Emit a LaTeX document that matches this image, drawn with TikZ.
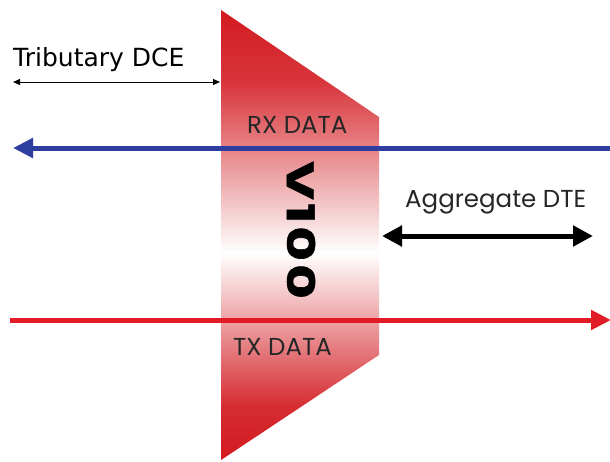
\documentclass[tikz,border=0pt]{standalone}
\usepackage{graphicx}
\usepackage{fontspec}
\setmainfont{DejaVu Sans}
\newfontfamily\geofont{Poppins}
\usetikzlibrary{arrows.meta, positioning, calc}
\definecolor{rxBlue}{RGB}{45, 62, 158}
\definecolor{txRed}{RGB}{226, 28, 38}
\definecolor{muxRed}{RGB}{210, 26, 32}
\pgfdeclareverticalshading{muxshade}{100bp}{color(0bp)=(muxRed); color(25bp)=(muxRed); color(31bp)=(muxRed!92!white); color(48bp)=(white); color(67bp)=(muxRed!88!white); color(75bp)=(muxRed); color(100bp)=(muxRed)}

\begin{document}
\begin{tikzpicture}[
    x=1pt, y=-1pt,
    label/.style={inner sep=0pt, font=\geofont\fontsize{24.5}{24.5}\selectfont, text=black!85},
    dataline/.style={line width=5pt, -{Triangle[length=20pt, width=19pt]}},
    span/.style={line width=1pt, {Triangle[length=7pt, width=6pt]}-{Triangle[length=7pt, width=6pt]}},
    bigspan/.style={line width=5pt, {Triangle[length=20pt, width=20pt]}-{Triangle[length=20pt, width=20pt]}}
]
    \useasboundingbox (0,0) rectangle (610,461);

    % Multiplexer body
    \coordinate (tl) at (221,10);
    \coordinate (tr) at (379,117);
    \coordinate (br) at (379,355);
    \coordinate (bl) at (221,460);
    \shade[shading=muxshade] (tl) -- (tr) -- (br) -- (bl) -- cycle;

    % Labels
    \node[label, anchor=base west] (rx) at (247,133) {RX DATA};
    \node[label, anchor=base west] (tx) at (233,355) {TX DATA};
    \node[inner sep=0pt, rotate=-90, font=\geofont\bfseries\fontsize{38}{38}\selectfont] (v100) at (301,230)
        {\scalebox{1.4}[1]{\addfontfeatures{FakeBold=1.2, LetterSpace=6}V100}};
    \node[inner sep=0pt, anchor=base west, font=\fontsize{25}{25}\selectfont] (trib) at (13,66) {Tributary DCE};
    \node[label, anchor=base west] (aggr) at (405,207) {Aggregate DTE};

    % End points
    \coordinate (tribL) at (13,82);
    \coordinate (tribR) at (220,82);
    \coordinate (aggrL) at (382,236);
    \coordinate (aggrR) at (593,236);
    \coordinate (rxR) at (612,148);
    \coordinate (rxL) at (13,148);
    \coordinate (txL) at (10,320);
    \coordinate (txR) at (611,320);

    % Connections
    \draw[span] (tribL) -- (tribR);
    \draw[bigspan] (aggrL) -- (aggrR);
    \draw[dataline, rxBlue] (rxR) -- (rxL);
    \draw[dataline, txRed] (txL) -- (txR);
\end{tikzpicture}
\end{document}
